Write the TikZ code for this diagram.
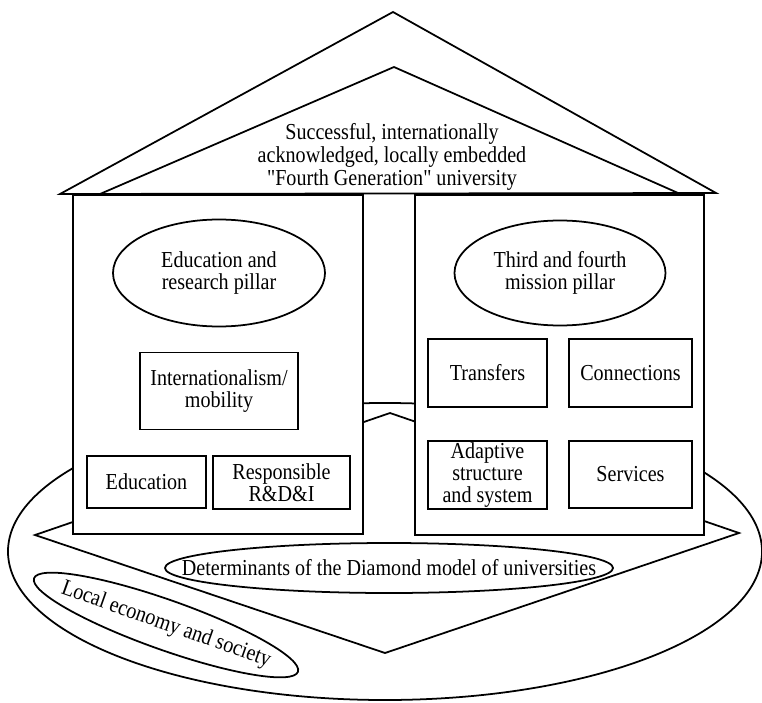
\documentclass[tikz,border=0pt]{standalone}
\usepackage{fontspec}
\setmainfont{Liberation Serif}[FakeStretch=0.88,Ligatures=TeXOff]
\usepackage{tikz}
\usetikzlibrary{shapes.geometric}

\begin{document}
\begin{tikzpicture}[x=0.03cm,y=-0.03cm,line width=1.5pt,
    font=\fontsize{19.5}{18.8}\selectfont,
    ringnode/.style={shape=ellipse,draw=black,inner sep=0pt},
    pillarbox/.style={shape=rectangle,draw=black,fill=white,inner sep=0pt},
    itembox/.style={shape=rectangle,draw=black,fill=white,inner sep=1pt,align=center}]

    \useasboundingbox (0,0) rectangle (762,702);

    % Base ellipse
    \node[ringnode,minimum width=22.62cm,minimum height=8.91cm] (base) at (385,551.5) {};

    % Local economy
    \node[ringnode,minimum width=8.4cm,minimum height=1.5cm,rotate=-19.5] (localring) at (166,625) {};
    \node[rotate=-19.5] (local) at (localring) {Local economy and society};

    % Diamond
    \coordinate (dtop) at (390,413);
    \coordinate (dright) at (739,533);
    \coordinate (dbottom) at (385,653);
    \coordinate (dleft) at (35,535);
    \draw (dtop) -- (dright) -- (dbottom) -- (dleft) -- cycle;

    \node[ringnode,fill=white,minimum width=13.44cm,minimum height=1.5cm] (detring) at (389,568) {};
    \node (det) at (detring) {Determinants of the Diamond model of universities};

    % Pillars
    \node[pillarbox,minimum width=8.7cm,minimum height=10.17cm] (edupillar) at (218,364.5) {};
    \node[pillarbox,minimum width=8.67cm,minimum height=10.2cm] (misspillar) at (559.5,365) {};

    % Pillar titles
    \node[ringnode,align=center,minimum width=6.36cm,minimum height=3.21cm] (edutitle) at (219,273) {Education and\\research pillar};
    \node[ringnode,align=center,minimum width=6.33cm,minimum height=3.15cm] (misstitle) at (560,273) {Third and fourth\\mission pillar};

    % Education and research items
    \node[itembox,minimum width=4.74cm,minimum height=2.31cm] (intl) at (219,391) {Internationalism/\\mobility};
    \node[itembox,minimum width=3.57cm,minimum height=1.56cm] (edu) at (146.5,482) {Education};
    \node[itembox,minimum width=4.11cm,minimum height=1.59cm] (rdi) at (281.5,482.5) {Responsible\\R\&D\&I};

    % Third and fourth mission items
    \node[itembox,minimum width=3.57cm,minimum height=2.04cm] (transfers) at (487.5,373) {Transfers};
    \node[itembox,minimum width=3.69cm,minimum height=2.04cm] (connections) at (630.5,373) {Connections};
    \node[itembox,minimum width=3.57cm,minimum height=2.04cm] (adaptive) at (487.5,475) {Adaptive\\structure\\and system};
    \node[itembox,minimum width=3.69cm,minimum height=2.01cm] (services) at (630.5,474.5) {Services};

    % Roof
    \coordinate (roofL) at (60,194);
    \coordinate (roofTop) at (393,12);
    \coordinate (roofR) at (716,193);
    \coordinate (innerL) at (100,194);
    \coordinate (innerTop) at (394,67);
    \coordinate (innerR) at (678,193);
    \draw (roofL) -- (roofTop) -- (roofR) -- cycle;
    \draw (innerL) -- (innerTop) -- (innerR);
    \node[align=center,font=\fontsize{19.5}{19.3}\selectfont] (motto) at (392,157)
        {Successful, internationally\\acknowledged, locally embedded\\"Fourth Generation" university};

\end{tikzpicture}
\end{document}
